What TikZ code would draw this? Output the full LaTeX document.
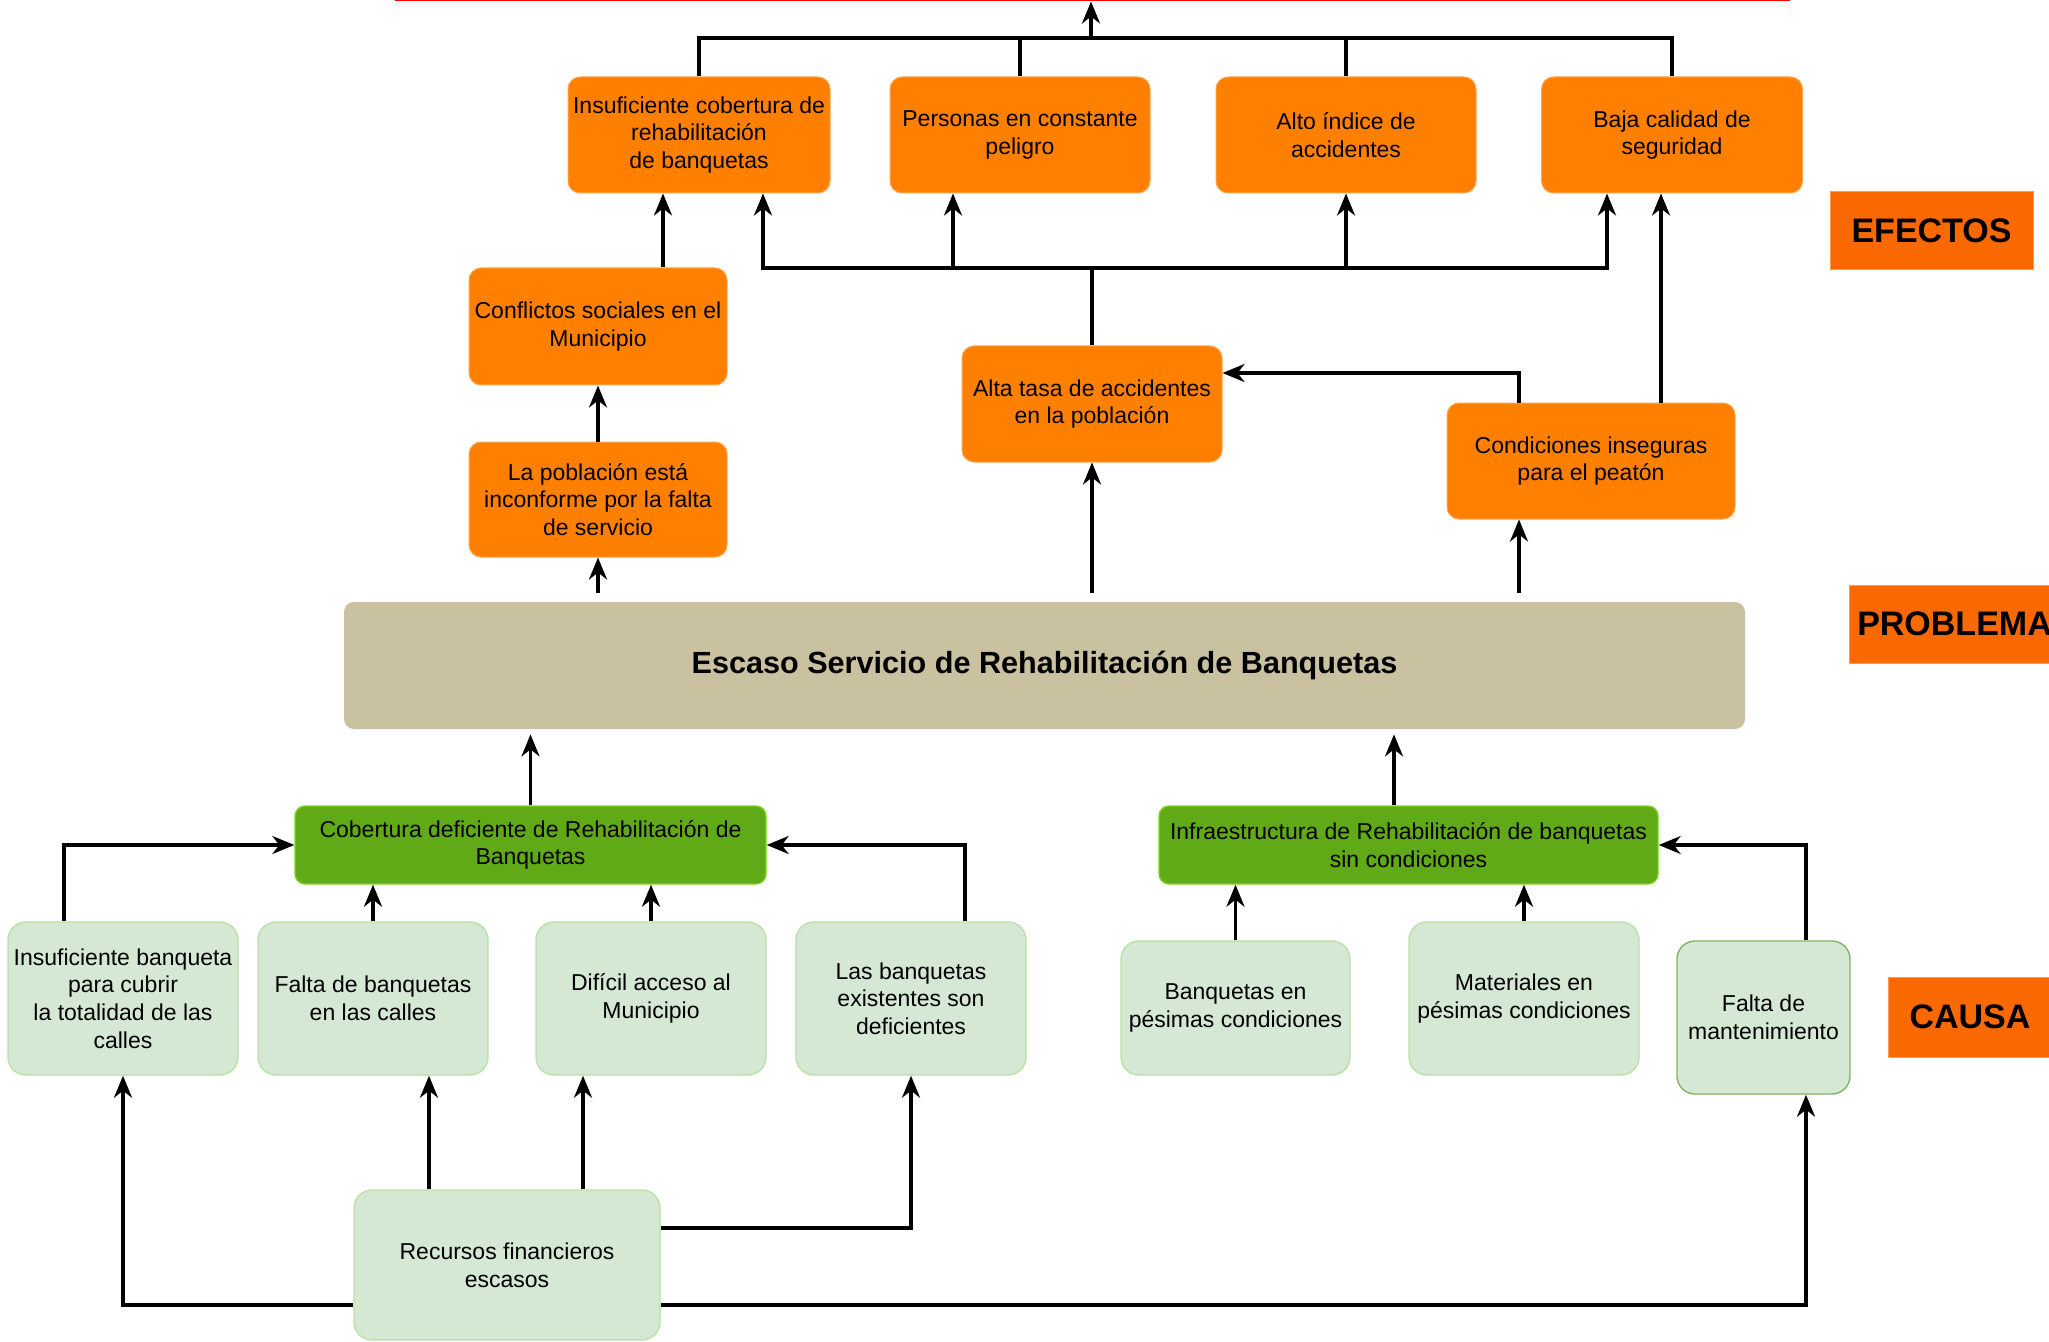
\documentclass[tikz,border=0pt]{standalone}
\usepackage{fontspec}
\setmainfont{Liberation Sans}
\usetikzlibrary{arrows.meta}
\definecolor{effc}{HTML}{FF8000}
\definecolor{effd}{HTML}{FFA54F}
\definecolor{labc}{HTML}{FA6800}
\definecolor{labd}{HTML}{FF9A50}
\definecolor{probc}{HTML}{C9C1A0}
\definecolor{midc}{HTML}{60A917}
\definecolor{midd}{HTML}{7ED321}
\definecolor{cauc}{HTML}{D5E8D4}
\definecolor{caud}{HTML}{B9E0A5}
\definecolor{caug}{HTML}{82B366}
\tikzset{
  box/.style={align=center, inner sep=0pt, font=\fontsize{11.5}{13.8}\selectfont},
  effbox/.style={box, rounded corners=6pt, fill=effc, draw=effd, line width=0.5pt},
  midbox/.style={box, rounded corners=5pt, fill=midc, draw=midd, line width=0.7pt},
  caubox/.style={box, rounded corners=9pt, fill=cauc, draw=caud, line width=0.7pt},
  probbox/.style={rounded corners=5pt, fill=probc, draw=none, inner sep=0pt, font=\fontsize{15.3}{18}\selectfont\bfseries},
  labbox/.style={fill=labc, draw=labd, line width=0.5pt, inner sep=0pt, font=\fontsize{17}{20}\selectfont\bfseries},
  ln/.style={line width=1.7pt},
  arr/.style={line width=1.7pt, -{Stealth[length=11pt,width=9pt,inset=3.5pt]}}
}
\begin{document}
\begin{tikzpicture}[x=0.5pt,y=-0.5pt]
\useasboundingbox (0,0) rectangle (2049,1342);
% goal box (cut off at top)
\node[draw=red, line width=1.5pt, minimum width=696pt, minimum height=40pt, anchor=south, inner sep=0pt] (fin) at (1092,1.5) {};
% effects
\node[effbox, minimum width=131pt, minimum height=58pt] (e1) at (699,135) {Insuficiente cobertura de\\rehabilitación\\de banquetas};
\node[effbox, minimum width=130pt, minimum height=58pt] (e2) at (1020,135) {Personas en constante\\peligro};
\node[effbox, minimum width=130pt, minimum height=58pt] (e3) at (1346,135) {Alto índice de\\accidentes};
\node[effbox, minimum width=130.5pt, minimum height=58pt] (e4) at (1672,135) {Baja calidad de\\seguridad};
\node[effbox, minimum width=129pt, minimum height=58.5pt] (conf) at (598,326.5) {Conflictos sociales en el\\Municipio};
\node[effbox, minimum width=129pt, minimum height=57.5pt] (pobl) at (598,499.5) {La población está\\inconforme por la falta\\de servicio};
\node[effbox, minimum width=130pt, minimum height=58pt] (alta) at (1092,404) {Alta tasa de accidentes\\en la población};
\node[effbox, minimum width=144pt, minimum height=58pt] (cond) at (1591,461) {Condiciones inseguras\\para el peatón};
% problem
\node[probbox, minimum width=700.5pt, minimum height=63.5pt] (prob) at (1044.5,665.5) {Escaso Servicio de Rehabilitación de Banquetas};
% middle causes
\node[midbox, minimum width=235.5pt, minimum height=39pt] (cob) at (530.5,845) {Cobertura deficiente de Rehabilitación de\\Banquetas};
\node[midbox, minimum width=249.5pt, minimum height=39pt] (inf) at (1408.5,845) {Infraestructura de Rehabilitación de banquetas\\sin condiciones};
% causes
\node[caubox, minimum width=115pt, minimum height=76.5pt] (A) at (123,998.5) {Insuficiente banqueta\\para cubrir\\la totalidad de las\\calles};
\node[caubox, minimum width=115pt, minimum height=76.5pt] (B) at (373,998.5) {Falta de banquetas\\en las calles};
\node[caubox, minimum width=115pt, minimum height=76.5pt] (C) at (651,998.5) {Difícil acceso al\\Municipio};
\node[caubox, minimum width=115pt, minimum height=76.5pt] (D) at (911,998.5) {Las banquetas\\existentes son\\deficientes};
\node[caubox, minimum width=114.5pt, minimum height=67pt] (E) at (1235.5,1008) {Banquetas en\\pésimas condiciones};
\node[caubox, minimum width=115pt, minimum height=76.5pt] (F) at (1524,998.5) {Materiales en\\pésimas condiciones};
\node[caubox, draw=caug, minimum width=86.5pt, minimum height=76.5pt] (G) at (1763.5,1017.5) {Falta de\\mantenimiento};
\node[caubox, minimum width=153pt, minimum height=75pt] (rec) at (507,1265) {Recursos financieros\\escasos};
% labels
\node[labbox, minimum width=101.5pt, minimum height=39pt] (lefe) at (1931.5,231) {EFECTOS};
\node[labbox, minimum width=105.5pt, minimum height=39pt] (lprob) at (1954.5,624) {PROBLEMA};
\node[labbox, minimum width=82pt, minimum height=40pt] (lcau) at (1970,1017) {CAUSA};
% top bus
\coordinate (tb) at (1091,38);
\draw[ln] (e1.north) |- (e4.north |- tb) -- (e4.north);
\draw[ln] (e2.north) -- (e2.north |- tb);
\draw[ln] (e3.north) -- (e3.north |- tb);
\draw[arr] (tb) -- (fin.south -| tb);
% lower bus
\coordinate (bb) at (1089,268);
\draw[ln] (alta.north) -- (alta.north |- bb);
\draw[arr] (bb) -| ([xshift=32pt]e1.south);
\draw[arr] (bb) -| ([xshift=-32.5pt]e4.south);
\draw[arr] ([xshift=-33.5pt]e2.south |- bb) -- ([xshift=-33.5pt]e2.south);
\draw[arr] (e3.south |- bb) -- (e3.south);
% left chain
\draw[arr] ([xshift=32.5pt]conf.north) -- ([xshift=32.5pt]conf.north |- e1.south);
\draw[arr] (pobl.north) -- (conf.south);
\draw[arr, shorten <=4.5pt] (pobl.south |- prob.north) -- (pobl.south);
% center / right
\draw[arr, shorten <=4.5pt] (alta.south |- prob.north) -- (alta.south);
\draw[arr, shorten <=4.5pt] ([xshift=-36pt]cond.south |- prob.north) -- ([xshift=-36pt]cond.south);
\draw[arr] ([xshift=-36pt]cond.north) |- ([yshift=15.5pt]alta.east);
\draw[arr] ([xshift=35pt]cond.north) -- ([xshift=35pt]cond.north |- e4.south);
% middle to problem
\draw[arr, shorten >=2.5pt] (cob.north) -- (cob.north |- prob.south);
\draw[arr, shorten >=2.5pt] ([xshift=-7.25pt]inf.north) -- ([xshift=-7.25pt]inf.north |- prob.south);
% causes to middle
\draw[arr] ([xshift=-29.5pt]A.north) |- (cob.west);
\draw[arr] (B.north) -- (B.north |- cob.south);
\draw[arr] (C.north) -- (C.north |- cob.south);
\draw[arr] ([xshift=27pt]D.north) |- (cob.east);
\draw[arr] (E.north) -- (E.north |- inf.south);
\draw[arr] (F.north) -- (F.north |- inf.south);
\draw[arr] ([xshift=21.25pt]G.north) |- (inf.east);
% recursos
\draw[arr] ([yshift=-20pt]rec.west) -| (A.south);
\draw[arr] ([xshift=28pt]B.south |- rec.north) -- ([xshift=28pt]B.south);
\draw[arr] ([xshift=-34pt]C.south |- rec.north) -- ([xshift=-34pt]C.south);
\draw[arr] ([yshift=18.5pt]rec.east) -| (D.south);
\draw[arr] ([yshift=-20pt]rec.east) -| ([xshift=21.25pt]G.south);
\end{tikzpicture}
\end{document}
